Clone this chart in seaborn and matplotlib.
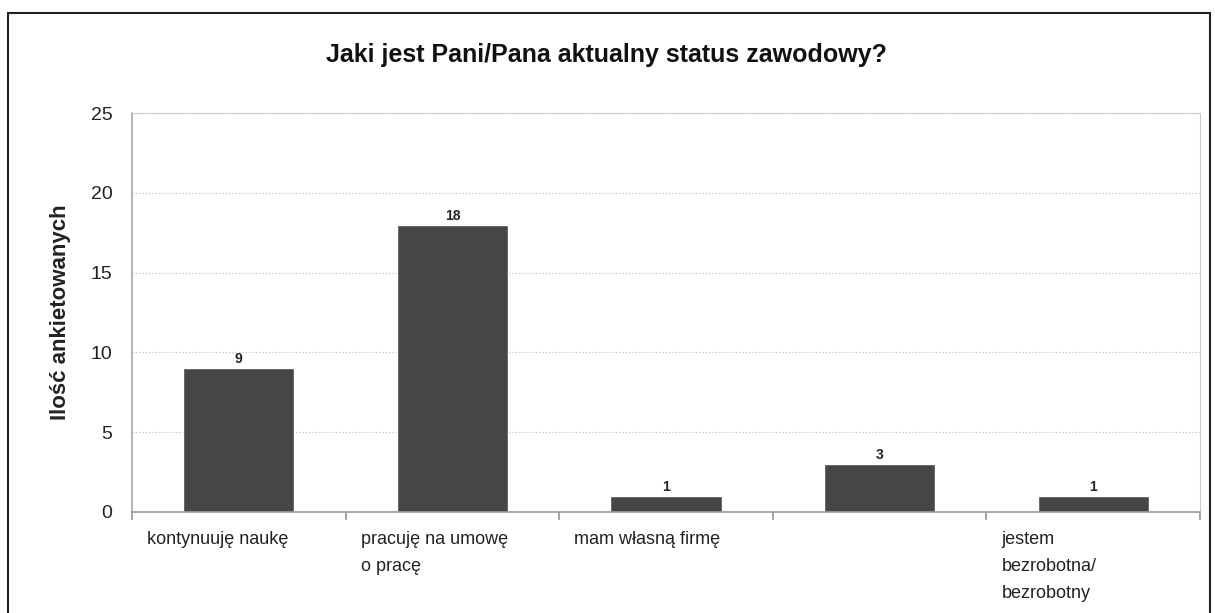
import matplotlib
matplotlib.use("Agg")
import matplotlib.pyplot as plt
import seaborn as sns
import pandas as pd
from matplotlib.patches import Rectangle

categories = ["kontynuuję naukę", "pracuję na umowę\no pracę", "mam własną firmę", "", "jestem\nbezrobotna/\nbezrobotny"]
values = [9, 18, 1, 3, 1]
yticks = [0, 5, 10, 15, 20, 25]
title = "Jaki jest Pani/Pana aktualny status zawodowy?"
ylabel = "Ilość ankietowanych"

sns.set_theme(style="white")
plt.rcParams['font.family'] = ['Liberation Sans', 'DejaVu Sans']

df = pd.DataFrame({"cat": [str(i) for i in range(len(categories))], "val": values})

fig = plt.figure(figsize=(12.15, 6.13), dpi=100)
W, H = 1215, 613
ax = fig.add_axes([132 / W, 1 - 512 / H, (1200 - 132) / W, (512 - 113) / H])

sns.barplot(data=df, x="cat", y="val", color="#464646", width=0.52, ax=ax, saturation=1)

ax.set_ylim(0, 25)
ax.set_xlim(-0.5, len(categories) - 0.5)
ax.set_yticks(yticks)
ax.set_yticklabels([str(t) for t in yticks], fontsize=14, color="#222222")
ax.tick_params(axis="y", length=0, pad=14)
ax.set_xticks([i - 0.5 for i in range(len(categories) + 1)])
ax.set_xticklabels([])
ax.tick_params(axis="x", length=6, color="#999999", direction="out", bottom=True)
ax.set_xlabel("")
ax.set_ylabel(ylabel, fontsize=16, fontweight="bold", labelpad=14, color="#222222")

for y in yticks[1:]:
    ax.axhline(y, color="#bbbbbb", linestyle=(0, (1, 2)), linewidth=0.8, zorder=0)

for s in ["top", "right"]:
    ax.spines[s].set_color("#cccccc")
    ax.spines[s].set_linewidth(0.8)
ax.spines["left"].set_color("#aaaaaa")
ax.spines["bottom"].set_color("#999999")
ax.spines["bottom"].set_linewidth(1.2)

for i, v in enumerate(values):
    ax.text(i, v + 0.12, str(v), ha="center", va="bottom", fontsize=10, fontweight="bold", color="#222222")

for i, c in enumerate(categories):
    ax.text(i - 0.5 + 0.07, -1.2, c, ha="left", va="top", fontsize=13, color="#222222",
            linespacing=1.75, transform=ax.transData)

fig.text(607 / W, 1 - 55 / H, title, ha="center", va="center", fontsize=18, fontweight="bold", color="#111111")

fig.patches.append(Rectangle((8 / W, -0.1), (1210 - 8) / W, 1 - 13 / H + 0.1, transform=fig.transFigure,
                             fill=False, edgecolor="#222222", linewidth=1.5))

fig.savefig("out.png", dpi=100)
